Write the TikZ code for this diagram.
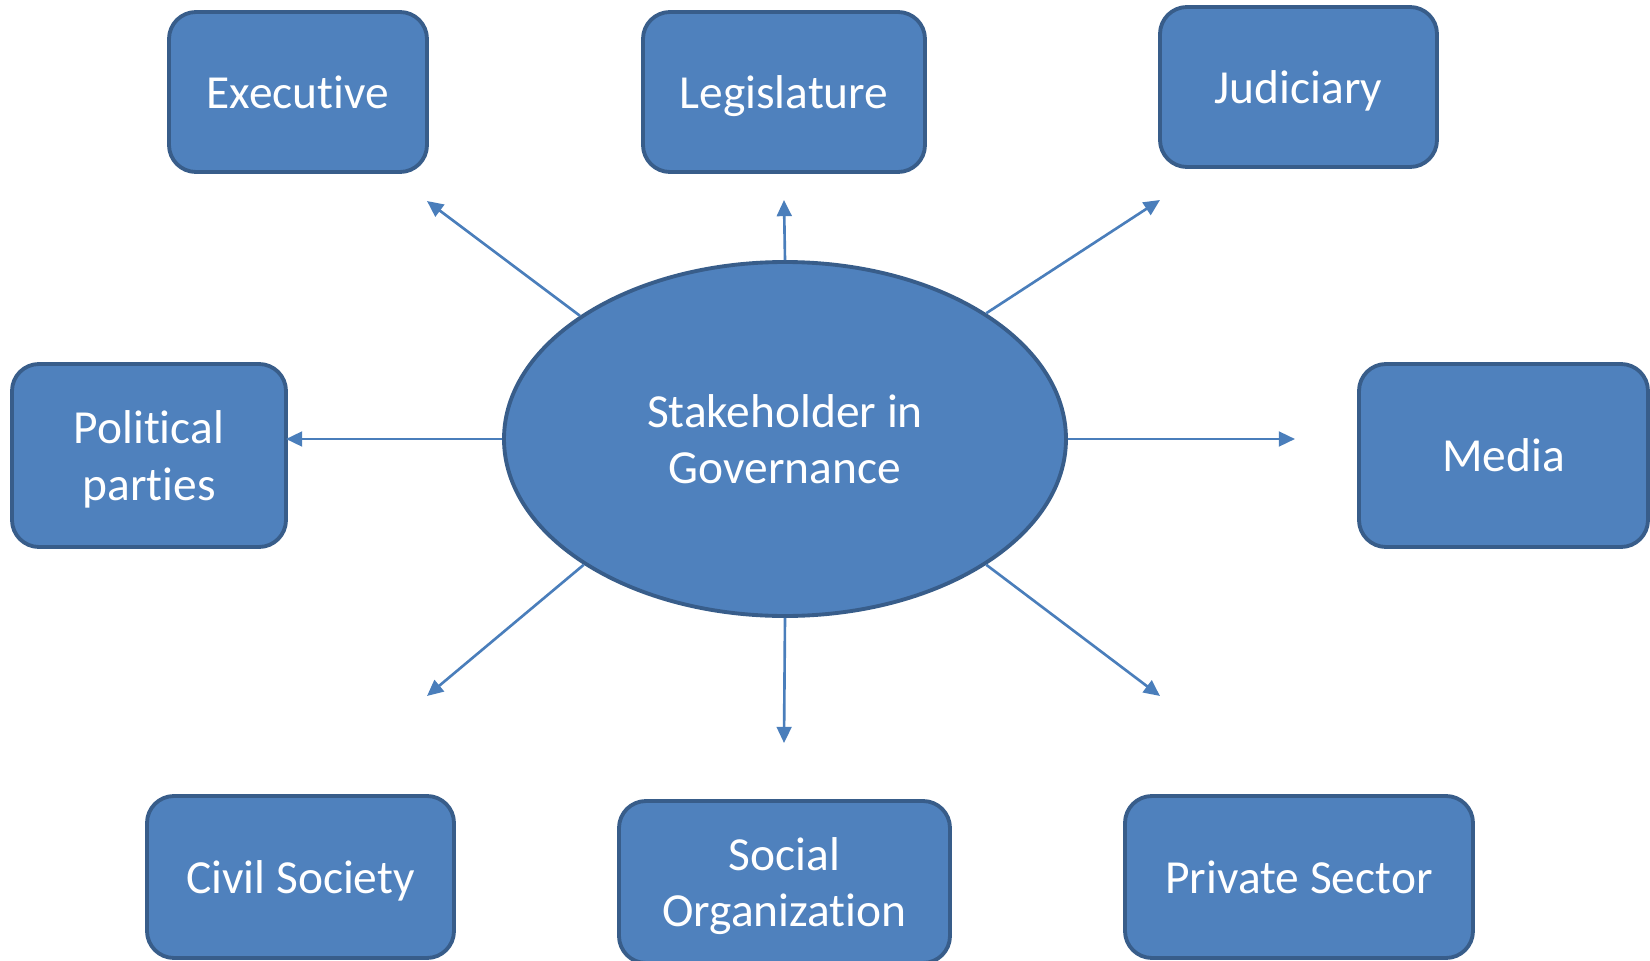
\documentclass[tikz,border=0pt]{standalone}
\usepackage{fontspec}
\setmainfont[RawFeature={-liga;-clig;-calt;-dlig}]{Carlito}
\usetikzlibrary{calc}
\usetikzlibrary{shapes.geometric}
\usetikzlibrary{arrows.meta,positioning}

\definecolor{boxfill}{HTML}{4F81BD}
\definecolor{boxline}{HTML}{385D8A}
\definecolor{arrline}{HTML}{4A7EBB}

\tikzset{
  actor/.style={rectangle,rounded corners=0.27cm,fill=boxfill,draw=boxline,line width=1.1pt,
    text=white,align=center,text depth=0pt,font=\fontsize{13.5}{16}\selectfont},
  hubshape/.style={ellipse,fill=boxfill,draw=boxline,line width=1.1pt,inner sep=0pt,
    text=white,align=center,font=\fontsize{13.5}{16}\selectfont},
  link/.style={draw=arrline,line width=0.75pt,-{Triangle[length=4.6pt,width=4.2pt]}}
}

\begin{document}
\begin{tikzpicture}

\useasboundingbox (0,0) rectangle (16.5,9.6);

% centre
\node[hubshape,minimum width=5.62cm,minimum height=3.54cm] at (7.85,5.21) (HUB) {Stakeholder in\\Governance};

%%%%%%%%%%%%%%%%%%%
% stakeholders (\kern0pt keeps t and i apart)
\node[actor,minimum width=2.58cm,minimum height=1.60cm] at (2.98,8.68) (EXEC) {Execut\kern0pt ive};
\node[actor,minimum width=2.82cm,minimum height=1.60cm] at (7.84,8.68) (LEGIS) {Legislature};
\node[actor,minimum width=2.77cm,minimum height=1.60cm] at (12.985,8.73) (JUDIC) {Judiciary};
\node[actor,minimum width=2.74cm,minimum height=1.83cm] at (1.49,5.045) (POLIT) {Polit\kern0pt ical\\part\kern0pt ies};
\node[actor,minimum width=2.89cm,minimum height=1.83cm] at (15.035,5.045) (MEDIA) {Media};
\node[actor,minimum width=3.07cm,minimum height=1.62cm] at (3.005,0.83) (CIVIL) {Civil Society};
\node[actor,minimum width=3.31cm,minimum height=1.62cm] at (7.845,0.78) (SOCIAL) {Social\\Organizat\kern0pt ion};
\node[actor,minimum width=3.48cm,minimum height=1.62cm] at (12.99,0.83) (PRIV) {Private Sector};

% arrow tips
\coordinate (tEXEC) at (4.27,7.59);
\coordinate (tLEGIS) at (7.84,7.60);
\coordinate (tJUDIC) at (11.60,7.60);
\coordinate (tPOLIT) at (2.86,5.21);
\coordinate (tMEDIA) at (12.95,5.21);
\coordinate (tCIVIL) at (4.27,2.64);
\coordinate (tSOCIAL) at (7.84,2.17);
\coordinate (tPRIV) at (11.60,2.64);

% arrows
\draw[link] (HUB.149) -- (tEXEC);
\draw[link] (HUB.90) -- (tLEGIS);
\draw[link] (HUB.32) -- (tJUDIC);
\draw[link] (HUB.180) -- (tPOLIT);
\draw[link] (HUB.0) -- (tMEDIA);
\draw[link] (HUB.212) -- (tCIVIL);
\draw[link] (HUB.270) -- (tSOCIAL);
\draw[link] (HUB.328) -- (tPRIV);

\end{tikzpicture}
\end{document}
